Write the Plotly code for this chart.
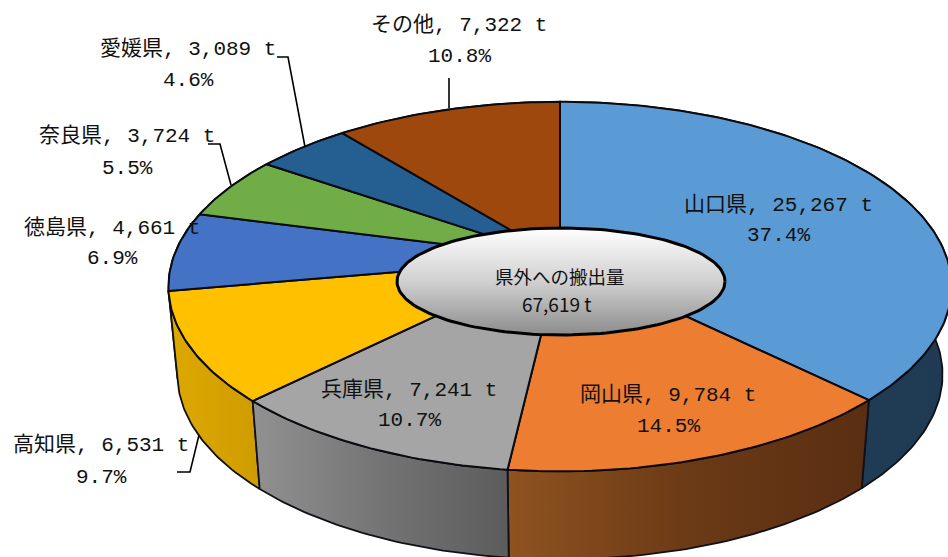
import math
import plotly.graph_objects as go

categories = ["山口県", "岡山県", "兵庫県", "高知県", "徳島県", "奈良県", "愛媛県", "その他"]
values = [25267, 9784, 7241, 6531, 4661, 3724, 3089, 7322]
percents = [37.4, 14.5, 10.7, 9.7, 6.9, 5.5, 4.6, 10.8]
top_colors = ["#5B9BD5", "#ED7D31", "#A5A5A5", "#FFC000", "#4472C4", "#70AD47", "#255E91", "#9E480E"]
wall_left = ["#264863", "#8F5320", "#919191", "#DDA800", "#2F4F88", "#4E7932", "#1A4265", "#6E3209"]
wall_mid = ["#223F58", "#6B3A16", "#747474", "#D6A200", "#2F4F88", "#4E7932", "#1A4265", "#6E3209"]
wall_right = ["#1F3A52", "#5A2E12", "#5C5C5C", "#CF9C00", "#2F4F88", "#4E7932", "#1A4265", "#6E3209"]
total_label = "県外への搬出量"
total_value = 67619

CX, CY, A, B, K = 560, 258.5, 387, 180.5, 0.152   # perspective disc
S, D = 0.977, 88                                  # lower rim
FONT = "Liberation Mono, Noto Sans CJK JP"
FONT_CENTER = "Noto Sans CJK JP"


def rim(theta):
    u, v = math.sin(theta), -math.cos(theta)
    w = 1 - K * v
    return CX + A * u / w, CY + B * v / w


def arc(a0, a1):
    n = max(4, int((a1 - a0) * 60))
    return [rim(a0 + (a1 - a0) * i / n) for i in range(n + 1)]


fig = go.Figure()
total = sum(values)
angles = [0]
for val in values:
    angles.append(angles[-1] + val / total * 2 * math.pi)

# side walls
for i in [7, 6, 5, 4, 0, 3, 1, 2]:
    pts = arc(angles[i], angles[i + 1])
    low = [(CX + (x - CX) * S, y + D) for x, y in reversed(pts)]
    poly = pts + low + pts[:1]
    fig.add_trace(go.Scatter(
        x=[p[0] for p in poly], y=[p[1] for p in poly], mode="lines", fill="toself",
        fillgradient=dict(type="horizontal",
                          colorscale=[[0, wall_left[i]], [0.5, wall_mid[i]], [1, wall_right[i]]]),
        line=dict(color="#101018", width=1.8), hoverinfo="skip", showlegend=False))

# top faces
for i in range(len(values)):
    pts = [(CX, CY)] + arc(angles[i], angles[i + 1]) + [(CX, CY)]
    fig.add_trace(go.Scatter(
        x=[p[0] for p in pts], y=[p[1] for p in pts], mode="lines", fill="toself",
        fillcolor=top_colors[i], line=dict(color="#0a0a10", width=2),
        hoverinfo="skip", showlegend=False))

# centre badge
EX, EY, EA, EB = 561, 281.5, 164, 53.5
ell = [(EX + EA * math.cos(t * math.pi / 90), EY + EB * math.sin(t * math.pi / 90)) for t in range(181)]
fig.add_trace(go.Scatter(
    x=[p[0] for p in ell], y=[p[1] for p in ell], mode="lines", fill="toself",
    fillgradient=dict(type="vertical", colorscale=[[0, "#8C8C8C"], [0.5, "#D0D0D0"], [1, "#FFFFFF"]]),
    line=dict(color="#000000", width=3), hoverinfo="skip", showlegend=False))

# labels: centre x, first line y, second line y
label_pos = [(778, 205, 235), (668, 395, 426), (409, 390, 420), (101, 445, 477),
             (112, 228, 258), (127, 136, 168), (188, 49, 80), (459, 25, 56)]
ann = []
for name, val, pct, (x, y1, y2) in zip(categories, values, percents, label_pos):
    line1 = f"{name}, {val:,} t"
    line2 = f"{pct}%"
    for txt, y in ((line1, y1), (line2, y2)):
        ann.append(dict(x=x, y=y, text=txt, showarrow=False, xanchor="center", yanchor="middle",
                        font=dict(family=FONT, size=21, color="#111111")))
ann.append(dict(x=560, y=276, text=total_label, showarrow=False, font=dict(family=FONT_CENTER, size=18.5, color="#111111")))
ann.append(dict(x=556, y=303, text=f"{total_value:,} t", showarrow=False, font=dict(family=FONT_CENTER, size=19, color="#111111")))

leaders = [
    [(449, 78), (449, 108)],
    [(277, 57), (288, 57), (305, 147)],
    [(208, 144), (220, 144), (231, 185)],
    [(177, 472), (190, 472), (199, 435)],
]
shapes = []
for ld in leaders:
    path = "M " + " L ".join(f"{x},{y}" for x, y in ld)
    shapes.append(dict(type="path", path=path, xref="x", yref="y", line=dict(color="#000000", width=1.6)))

fig.update_layout(
    width=948, height=557, margin=dict(l=0, r=0, t=0, b=0), autosize=False,
    paper_bgcolor="white", plot_bgcolor="white", showlegend=False,
    xaxis=dict(range=[0, 948], visible=False, fixedrange=True),
    yaxis=dict(range=[557, 0], visible=False, fixedrange=True),
    annotations=ann, shapes=shapes)

fig.write_html("out.html", config=dict(displayModeBar=False),
               post_script="document.body.style.margin='0';")
